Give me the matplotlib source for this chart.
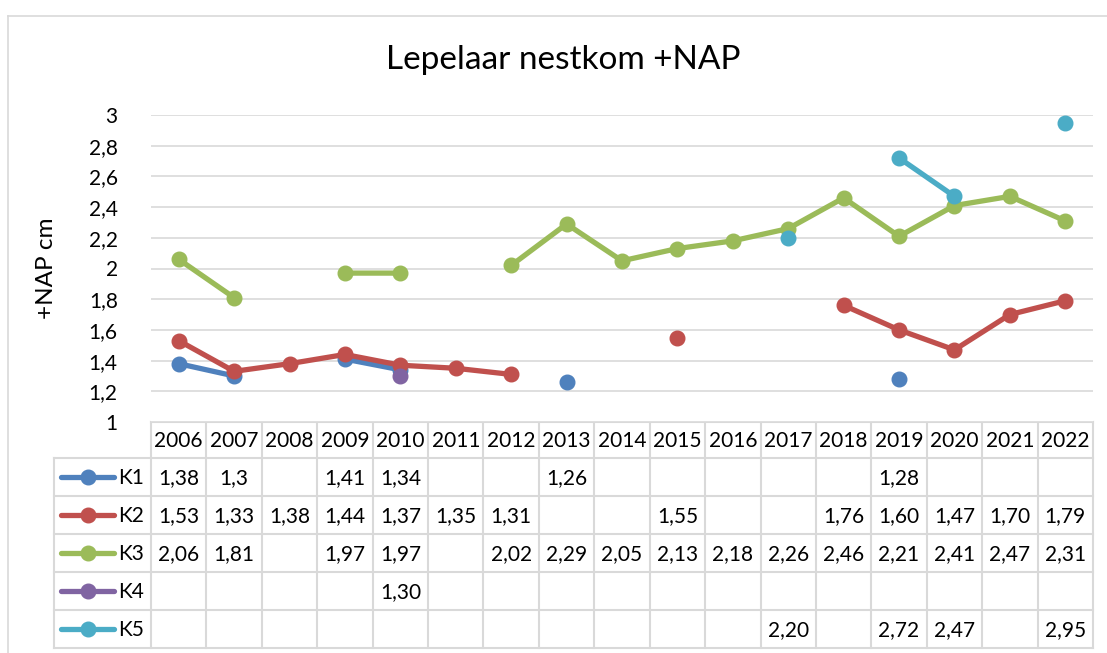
import numpy as np
import matplotlib.pyplot as plt
from matplotlib.lines import Line2D

plt.rcParams['font.family'] = ['Lato', 'DejaVu Sans']

years = ['2006', '2007', '2008', '2009', '2010', '2011', '2012', '2013', '2014',
         '2015', '2016', '2017', '2018', '2019', '2020', '2021', '2022']
nan = np.nan
k1 = [1.38, 1.3, nan, 1.41, 1.34, nan, nan, 1.26, nan, nan, nan, nan, nan, 1.28, nan, nan, nan]
k2 = [1.53, 1.33, 1.38, 1.44, 1.37, 1.35, 1.31, nan, nan, 1.55, nan, nan, 1.76, 1.60, 1.47, 1.70, 1.79]
k3 = [2.06, 1.81, nan, 1.97, 1.97, nan, 2.02, 2.29, 2.05, 2.13, 2.18, 2.26, 2.46, 2.21, 2.41, 2.47, 2.31]
k4 = [nan, nan, nan, nan, 1.30, nan, nan, nan, nan, nan, nan, nan, nan, nan, nan, nan, nan]
k5 = [nan, nan, nan, nan, nan, nan, nan, nan, nan, nan, nan, 2.20, nan, 2.72, 2.47, nan, 2.95]

series = [('K1', k1, '#4F81BD', 'general'),
          ('K2', k2, '#C0504D', '0.00'),
          ('K3', k3, '#9BBB59', '0.00'),
          ('K4', k4, '#8064A2', '0.00'),
          ('K5', k5, '#4BACC6', '0.00')]

W, H = 1107, 653
grid_c = '#D9D9D9'
fs = 15
fig = plt.figure(figsize=(W / 100, H / 100), dpi=100)

# plot area in pixels
x0, x1, ytop, ybot = 151, 1093, 115, 422
ax = fig.add_axes([x0 / W, (H - ybot) / H, (x1 - x0) / W, (ybot - ytop) / H])
x = np.arange(len(years))
for name, vals, col, fmt in series:
    ax.plot(x, vals, color=col, lw=3.8, marker='o', ms=10.5, clip_on=False,
            solid_capstyle='round', zorder=3)

ax.set_xlim(-0.5, len(years) - 0.5)
ax.set_ylim(1, 3)
ticks = np.round(np.arange(1, 3.01, 0.2), 1)
ax.set_yticks(ticks)
ax.set_yticklabels([f'{t:g}'.replace('.', ',') for t in ticks], fontsize=fs)
ax.set_xticks([])
ax.tick_params(axis='y', length=0, pad=24)
for s in ax.spines.values():
    s.set_visible(False)
ax.yaxis.grid(True, color=grid_c, lw=1.2)
ax.set_axisbelow(True)
ax.set_ylabel('+NAP cm', fontsize=17.5)
ax.yaxis.set_label_coords((57 - x0) / (x1 - x0), 0.5)

fig.text(563 / W, 1 - 60 / H, 'Lepelaar nestkom +NAP', fontsize=24,
         ha='center', va='center')

# data table drawn in pixel coordinates
tb = fig.add_axes([0, 0, 1, 1], zorder=-1)
tb.set_xlim(0, W)
tb.set_ylim(H, 0)
tb.axis('off')

# outer chart frame
tb.plot([8, W], [16, 16], color=grid_c, lw=1.2)
tb.plot([8, 8], [16, H], color=grid_c, lw=1.2)

cw = (x1 - x0) / len(years)
head_b = 458
rh = 38
rows_y = [head_b + i * rh for i in range(len(series) + 1)]
leg_x = 54
tb.plot([x0, x1], [ybot, ybot], color=grid_c, lw=1.5)
for yy in rows_y:
    tb.plot([leg_x, x1], [yy, yy], color=grid_c, lw=1.5)
for i in range(len(years) + 1):
    tb.plot([x0 + i * cw] * 2, [ybot, rows_y[-1]], color=grid_c, lw=1.5)
tb.plot([leg_x, leg_x], [head_b, rows_y[-1]], color=grid_c, lw=1.5)

for i, yr in enumerate(years):
    tb.text(x0 + (i + 0.5) * cw, (ybot + head_b) / 2 + 1, yr, fontsize=fs,
            ha='center', va='center')

for r, (name, vals, col, fmt) in enumerate(series):
    yc = rows_y[r] + rh / 2
    tb.add_line(Line2D([61, 114], [yc, yc], color=col, lw=3.8,
                       solid_capstyle='round'))
    tb.plot([88], [yc], marker='o', color=col, ms=10.5)
    tb.text(118, yc + 1, name, fontsize=fs, ha='left', va='center')
    for i, v in enumerate(vals):
        if np.isnan(v):
            continue
        s = f'{v:g}' if fmt == 'general' else f'{v:.2f}'
        tb.text(x0 + (i + 0.5) * cw, yc + 1, s.replace('.', ','), fontsize=fs,
                ha='center', va='center')

fig.savefig('out.png', dpi=100)
